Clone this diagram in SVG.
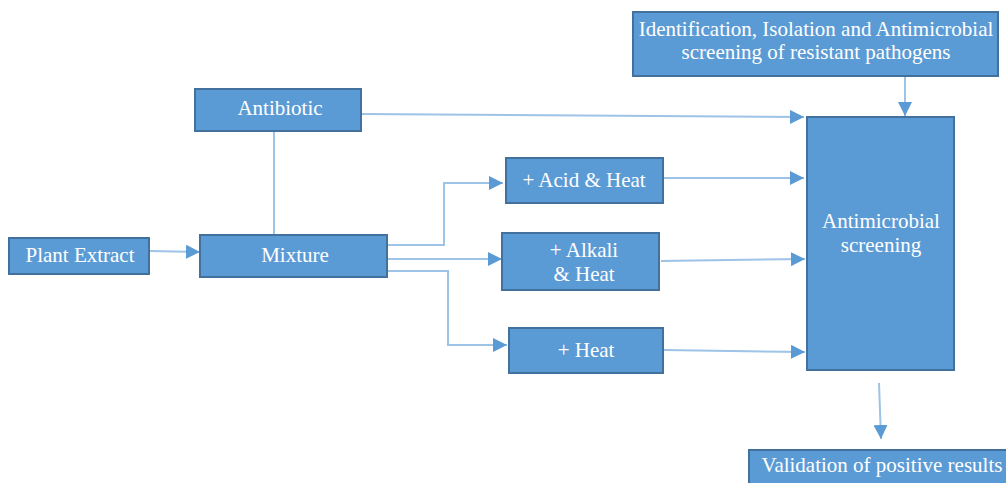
<svg xmlns="http://www.w3.org/2000/svg" width="1006" height="483" viewBox="0 0 1006 483">
<defs>
<style>
.box{fill:#5B9BD5;stroke:#41719C;stroke-width:2}
.t{font-family:"Liberation Serif","Times New Roman",serif;font-size:21px;fill:#ffffff;text-anchor:middle}
.c{fill:none;stroke:#9DC3E6;stroke-width:2}
</style>
<marker id="a" viewBox="0 0 10 10" refX="10" refY="5" markerWidth="14" markerHeight="14" markerUnits="userSpaceOnUse" orient="auto">
<path d="M0,0 L10,5 L0,10 Z" fill="#5B9BD5"/>
</marker>
</defs>
<rect width="1006" height="483" fill="#ffffff"/>
<g id="connectors">
<path class="c" d="M905,76 L905,116" marker-end="url(#a)"/>
<path class="c" d="M362,114 L804,117" marker-end="url(#a)"/>
<path class="c" d="M274,131 L274,235"/>
<path class="c" d="M149,251 L200,252" marker-end="url(#a)"/>
<path class="c" d="M387,245 L444,245 L444,183 L503,183" marker-end="url(#a)"/>
<path class="c" d="M387,259 L502,259" marker-end="url(#a)"/>
<path class="c" d="M387,271 L448,271 L448,345 L507,345" marker-end="url(#a)"/>
<path class="c" d="M663,178 L804,178" marker-end="url(#a)"/>
<path class="c" d="M661,261 L805,259" marker-end="url(#a)"/>
<path class="c" d="M663,350 L805,352" marker-end="url(#a)"/>
<path class="c" d="M879,383 L881,439" marker-end="url(#a)"/>
</g>
<g id="n-ident"><rect class="box" x="633" y="12" width="365" height="64"/><text class="t" x="816" y="36">Identification, Isolation and Antimicrobial</text><text class="t" x="816" y="59">screening of resistant pathogens</text></g>
<g id="n-antibiotic"><rect class="box" x="195" y="89" width="166" height="42"/><text class="t" x="280" y="115">Antibiotic</text></g>
<g id="n-plant"><rect class="box" x="9" y="238" width="140" height="36"/><text class="t" x="80" y="262">Plant Extract</text></g>
<g id="n-mixture"><rect class="box" x="200" y="235" width="187" height="42"/><text class="t" x="295" y="262">Mixture</text></g>
<g id="n-acid"><rect class="box" x="506" y="158" width="157" height="45"/><text class="t" x="584" y="187">+ Acid &amp; Heat</text></g>
<g id="n-alkali"><rect class="box" x="502" y="233" width="157" height="57"/><text class="t" x="584" y="257">+ Alkali</text><text class="t" x="584" y="281">&amp; Heat</text></g>
<g id="n-heat"><rect class="box" x="509" y="328" width="154" height="45"/><text class="t" x="586" y="357">+ Heat</text></g>
<g id="n-screening"><rect class="box" x="807" y="117" width="147" height="253"/><text class="t" x="881" y="228">Antimicrobial</text><text class="t" x="881" y="252">screening</text></g>
<g id="n-validation"><rect class="box" x="749" y="450" width="270" height="40"/><text class="t" x="882" y="472">Validation of positive results</text></g>
</svg>
